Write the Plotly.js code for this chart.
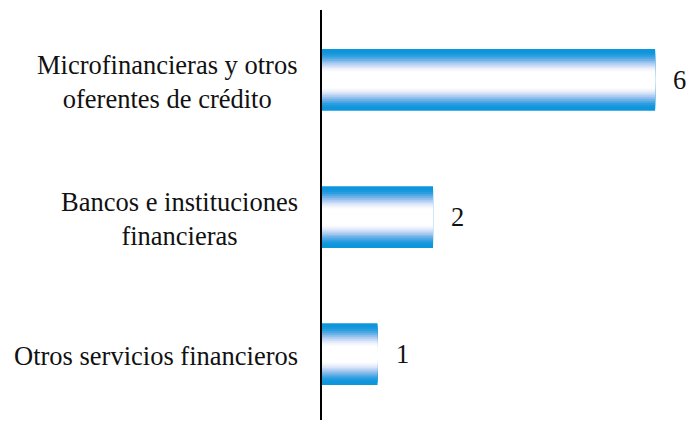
<!DOCTYPE html>
<html>
<head>
<meta charset="utf-8">
<script src="https://cdn.plot.ly/plotly-3.0.1.min.js"></script>
<style>html,body{margin:0;padding:0;background:#fff;}#chart{width:689px;height:421px;}</style>
</head>
<body>
<div id="chart"></div>
<script>
// Data (bottom to top)
const categories = ["Otros servicios financieros", "Bancos e instituciones<br>financieras", "Microfinancieras y otros<br>oferentes de crédito"];
const values = [1, 2, 6];
const valueLabels = ["1", "2", "6"];

const FONT = 'Liberation Serif';

// Gradient simulation: stacked overlay bars, blue at edges, white centre
const BAR_W = 0.45;
const LAYERS = 16;
const edge = [14, 150, 220];
const traces = [];
for (let i = 0; i < LAYERS; i++) {
  const t = 1 - i / LAYERS; // 1 = edge, towards 0 = centre
  const x = Math.min(1, Math.max(0, (t - 0.25) / 0.7));
  const f = x * x * (3 - 2 * x);
  const c = edge.map(v => 255 + (v - 255) * f);
  const tint = Math.sin(Math.PI * f);
  c[0] += tint * 18; c[1] -= tint * 8;
  traces.push({
    type: 'bar',
    orientation: 'h',
    x: values,
    y: categories,
    width: BAR_W * t,
    offset: -BAR_W * t / 2,
    marker: {color: 'rgb(' + c.map(v => Math.round(Math.min(255, v))).join(',') + ')', line: {width: 0}},
    hoverinfo: 'skip',
    showlegend: false
  });
}

const annotations = [];
categories.forEach((cat, i) => {
  annotations.push({
    xref: 'paper', yref: 'y', x: 0, y: cat,
    xanchor: 'right', yanchor: 'middle', xshift: -22, yshift: -2,
    text: cat, align: 'center', showarrow: false,
    font: {family: FONT, size: 26.5, color: '#111'}
  });
  annotations.push({
    xref: 'x', yref: 'y', x: values[i], y: cat,
    xanchor: 'left', yanchor: 'middle', xshift: 16,
    text: valueLabels[i], showarrow: false,
    font: {family: FONT, size: 26.5, color: '#111'}
  });
});

const layout = {
  width: 689, height: 421,
  margin: {l: 322, r: 0, t: 10, b: 1, pad: 0},
  paper_bgcolor: '#fff', plot_bgcolor: '#fff',
  font: {family: FONT},
  barmode: 'overlay',
  xaxis: {range: [0, 6.61], showgrid: false, zeroline: false, showticklabels: false, showline: false, ticks: ''},
  yaxis: {type: 'category', range: [-0.48, 2.51], showgrid: false, zeroline: false, showticklabels: false,
          showline: true, linecolor: '#000', linewidth: 2, ticks: ''},
  annotations: annotations
};

Plotly.newPlot('chart', traces, layout, {displayModeBar: false, staticPlot: true});
</script>
</body>
</html>
